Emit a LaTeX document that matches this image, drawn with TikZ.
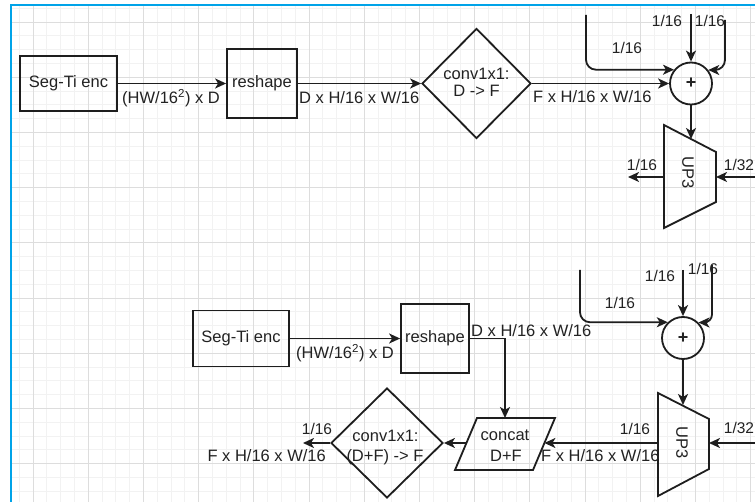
\documentclass[tikz,border=0pt]{standalone}
\usepackage{fontspec}
\setmainfont{Liberation Sans}
\usetikzlibrary{arrows.meta,shapes.geometric}
\definecolor{ln}{HTML}{1E1E1E}
\definecolor{tx}{HTML}{222222}
\definecolor{bord}{HTML}{00A3E8}
\definecolor{gmaj}{HTML}{DDDDDD}
\definecolor{gmin}{HTML}{F2F2F2}
\begin{document}
\begin{tikzpicture}[x=1pt,y=-1pt,
  every node/.style={text=tx, font=\fontsize{16.5}{18}\selectfont},
  box/.style={draw=ln, line width=1.8pt, inner sep=0pt, rectangle},
  dia/.style={draw=ln, line width=1.8pt, diamond, inner sep=0pt},
  sum/.style={draw=ln, line width=1.8pt, circle, minimum size=42pt, inner sep=0pt, font=\fontsize{18}{18}\selectfont\bfseries},
  shapeline/.style={draw=ln, line width=1.8pt, line join=miter},
  conn/.style={draw=ln, line width=1.8pt, -{Stealth[length=11pt,width=10pt,inset=3pt]}},
  lbl/.style={inner sep=0pt, anchor=base},
  sml/.style={lbl, font=\fontsize{15.5}{18}\selectfont},
]
\useasboundingbox (0,0) rectangle (755,502);
\fill[white] (0,0) rectangle (755,502);
% grid
\begin{scope}
\clip (11,5) rectangle (755,502);
\foreach \i in {0,...,54} { \draw[gmin, line width=0.8pt] ({5.4+13.8*\i},5) -- ({5.4+13.8*\i},502); }
\foreach \j in {0,...,35} { \draw[gmin, line width=0.8pt] (11,{8.2+13.8*\j}) -- (755,{8.2+13.8*\j}); }
\foreach \k in {0,...,13} { \draw[gmaj, line width=0.9pt] ({33+55.2*\k},5) -- ({33+55.2*\k},502); }
\foreach \k in {0,...,8} { \draw[gmaj, line width=0.9pt] (11,{22+55.2*\k}) -- (755,{22+55.2*\k}); }
\end{scope}
\draw[bord, line width=2.5pt] (11,502) -- (11,5) -- (755,5);

% ---------------- top row ----------------
\node[box, minimum width=97pt, minimum height=55pt] (enc1) at (68.5,83.5) {Seg-Ti enc};
\node[box, minimum width=70pt, minimum height=69pt] (resh1) at (262,83.5) {reshape};
\node[dia, minimum width=109pt, minimum height=110pt] (cv1) at (476.5,83.5) {};
\node[lbl] (cv1a) at (476.5,80) {conv1x1:};
\node[lbl] (cv1b) at (476.5,97) {D -> F};
\node[sum] (c1) at (691,83.5) {+};

% UP3 top trapezoid
\coordinate (u1tl) at (664,125);
\coordinate (u1bl) at (664,228);
\coordinate (u1tr) at (716,152);
\coordinate (u1br) at (716,202);
\coordinate (u1in) at (691,139);
\coordinate (u1l) at (664,177);
\coordinate (u1r) at (716,177);
\draw[shapeline] (u1tl) -- (u1tr) -- (u1br) -- (u1bl) -- cycle;
\node[rotate=-90, inner sep=0pt] (u1t) at (688,173) {UP3};

\coordinate (o1) at (628,177);
\coordinate (i1) at (755,177);
\coordinate (t1l) at (586,15);
\coordinate (t1m) at (691,14);
\coordinate (t1r) at (725,20);

\draw[conn] (enc1.east) -- (resh1.west);
\draw[conn] (resh1.east) -- (cv1.west);
\draw[conn] (cv1.east) -- (c1.west);
\draw[conn] (c1.south) -- (u1in);
\draw[conn] (u1l) -- (o1);
\draw[conn] (i1) -- (u1r);
\draw[conn] (t1m) -- (c1.north);
\draw[conn, rounded corners=10pt] (t1l) |- (c1.141.8);
\draw[conn, rounded corners=10pt] (t1r) |- (c1.38.2);

\node[lbl, anchor=base west] (l1) at (122,104) {(HW/16\textsuperscript{2}) x D};
\node[lbl, anchor=base west] (l2) at (299,104) {D x H/16 x W/16};
\node[lbl, anchor=base west] (l3) at (533,103) {F x H/16 x W/16};
\node[sml] (l4) at (667,27) {1/16};
\node[sml] (l5) at (710,27) {1/16};
\node[sml] (l6) at (627,54) {1/16};
\node[sml] (l7) at (642,171) {1/16};
\node[sml] (l8) at (739,171) {1/32};

% ---------------- bottom row ----------------
\node[box, minimum width=96pt, minimum height=56pt] (enc2) at (241,338.5) {Seg-Ti enc};
\node[box, minimum width=68pt, minimum height=69pt] (resh2) at (435,338.5) {reshape};
\node[sum] (c2) at (683,338) {+};
\node[dia, minimum width=112pt, minimum height=110pt] (cv2) at (387,443) {};
\node[lbl] (cv2a) at (385.5,441) {conv1x1:};
\node[lbl] (cv2b) at (385,461) {(D+F) -> F};

% concat parallelogram
\coordinate (ccbl) at (455,470);
\coordinate (cctl) at (477,418);
\coordinate (cctr) at (555,418);
\coordinate (ccbr) at (533,470);
\coordinate (cctop) at (505,418);
\coordinate (ccr) at (544.4,443);
\coordinate (ccl) at (466.6,443);
\draw[shapeline] (ccbl) -- (cctl) -- (cctr) -- (ccbr) -- cycle;
\node[lbl] (cca) at (505,440) {concat};
\node[lbl] (ccb) at (506,461) {D+F};

% UP3 bottom trapezoid
\coordinate (u2tl) at (658,393);
\coordinate (u2bl) at (658,496);
\coordinate (u2tr) at (709,419);
\coordinate (u2br) at (709,469);
\coordinate (u2in) at (683,405);
\coordinate (u2l) at (658,443);
\coordinate (u2r) at (709,443);
\draw[shapeline] (u2tl) -- (u2tr) -- (u2br) -- (u2bl) -- cycle;
\node[rotate=-90, inner sep=0pt] (u2t) at (682,443) {UP3};

\coordinate (o2) at (303,443);
\coordinate (i2) at (755,443);
\coordinate (t2l) at (580,270);
\coordinate (t2m) at (683,270);
\coordinate (t2r) at (712,265);

\draw[conn] (enc2.east) -- (resh2.west);
\draw[conn] (resh2.east) -| (cctop);
\draw[conn] (u2l) -- (ccr);
\draw[conn] (ccl) -- (cv2.east);
\draw[conn] (cv2.west) -- (o2);
\draw[conn] (c2.south) -- (u2in);
\draw[conn] (i2) -- (u2r);
\draw[conn] (t2m) -- (c2.north);
\draw[conn, rounded corners=10pt] (t2l) |- (c2.134.4);
\draw[conn, rounded corners=8pt] (t2r) |- (c2.45.6);

\node[lbl, anchor=base west] (m1) at (296,359) {(HW/16\textsuperscript{2}) x D};
\node[lbl, anchor=base west] (m2) at (471,337) {D x H/16 x W/16};
\node[sml] (m3) at (635,434) {1/16};
\node[lbl, anchor=base west] (m4) at (541,461) {F x H/16 x W/16};
\node[sml] (m5) at (317,434) {1/16};
\node[lbl, anchor=base east] (m6) at (326,461) {F x H/16 x W/16};
\node[sml] (m7) at (620,309) {1/16};
\node[sml] (m8) at (660,282) {1/16};
\node[sml] (m9) at (703,275) {1/16};
\node[sml] (m10) at (739,433) {1/32};
\end{tikzpicture}
\end{document}
